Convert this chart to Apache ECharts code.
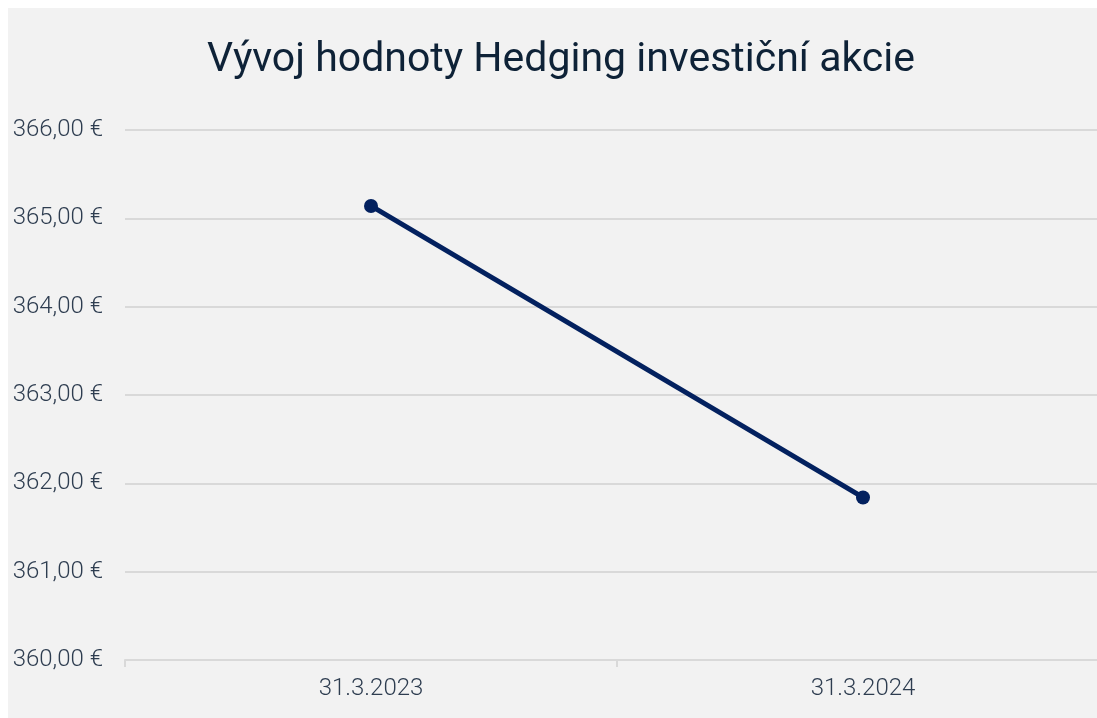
<!DOCTYPE html>
<html>
<head>
<meta charset="utf-8">
<script src="https://cdn.jsdelivr.net/npm/echarts@6/dist/echarts.min.js"></script>
<style>
  html, body { margin: 0; padding: 0; background: #ffffff; overflow: hidden; }
  #chart { width: 1097px; height: 718px; }
</style>
</head>
<body>
<div id="chart"></div>
<script>
const dates = ['31.3.2023', '31.3.2024']
const values = [365.14, 361.84]
const yTicks = { min: 360, max: 366, step: 1 }

const chart = echarts.init(document.getElementById('chart'))

const labelFont = {
  color: '#2e3d50',
  fontSize: 24,
  fontWeight: 300,
  fontFamily: 'Roboto',
}

const option = {
  backgroundColor: '#ffffff',
  // grey panel, white 8px edge top and left
  graphic: [
    {
      type: 'rect',
      left: 8,
      top: 8,
      shape: { width: 1089, height: 710 },
      style: { fill: '#f2f2f2' },
      z: -10,
      silent: true,
    },
  ],
  title: {
    text: 'Vývoj hodnoty Hedging investiční akcie',
    left: 556,
    textAlign: 'center',
    top: 35,
    textStyle: {
      color: '#0e2237',
      fontSize: 41,
      fontWeight: 'normal',
      fontFamily: 'Roboto',
    },
  },
  grid: {
    left: 125,
    width: 984,
    top: 130,
    height: 530,
    outerBoundsMode: 'none',
  },
  xAxis: {
    type: 'category',
    data: dates,
    axisLine: { lineStyle: { color: '#d9d9d9', width: 2 } },
    axisTick: { show: true, length: 7, lineStyle: { color: '#d9d9d9', width: 2 } },
    axisLabel: Object.assign({ margin: 17 }, labelFont),
  },
  yAxis: {
    type: 'value',
    min: yTicks.min,
    max: yTicks.max,
    interval: yTicks.step,
    axisLine: { show: false },
    axisTick: { show: false },
    splitLine: { lineStyle: { color: '#d9d9d9', width: 2 } },
    axisLabel: Object.assign({
      margin: 22,
      formatter: (v) => v.toFixed(2).replace('.', ',') + ' €',
    }, labelFont),
  },
  series: [
    {
      type: 'line',
      data: values,
      color: '#03215f',
      symbol: 'circle',
      symbolSize: 14,
      lineStyle: { width: 5 },
      animation: false,
    },
  ],
}

chart.setOption(option)
</script>
</body>
</html>
